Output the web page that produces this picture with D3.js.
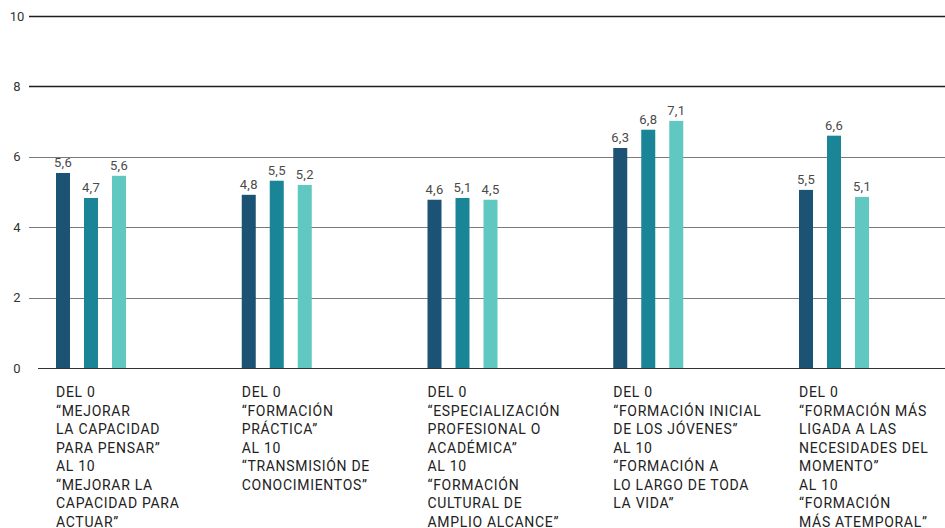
<!DOCTYPE html>
<html>
<head>
<meta charset="utf-8">
<script src="https://cdn.jsdelivr.net/npm/d3@7"></script>
<style>
  body { margin: 0; background: #fff; }
  svg { display: block; font-family: Roboto, "DejaVu Sans", sans-serif; }
  .tick-y { font-size: 13px; fill: #333; }
  .valor { font-size: 13px; fill: #4a4a4a; letter-spacing: 0.3px; }
  .cat { font-size: 14px; fill: #222; letter-spacing: 0.7px; }
</style>
</head>
<body>
<div class="chart"></div>
<script>
var categorias = ["pensar-actuar", "practica-transmision", "especializacion-cultural", "inicial-vida", "momento-atemporal"];

var etiquetas = [
  ["DEL 0", "\u201cMEJORAR", "LA CAPACIDAD", "PARA PENSAR\u201d", "AL 10", "\u201cMEJORAR LA", "CAPACIDAD PARA", "ACTUAR\u201d"],
  ["DEL 0", "\u201cFORMACIÓN", "PRÁCTICA\u201d", "AL 10", "\u201cTRANSMISIÓN DE", "CONOCIMIENTOS\u201d"],
  ["DEL 0", "\u201cESPECIALIZACIÓN", "PROFESIONAL O", "ACADÉMICA\u201d", "AL 10", "\u201cFORMACIÓN", "CULTURAL DE", "AMPLIO ALCANCE\u201d"],
  ["DEL 0", "\u201cFORMACIÓN INICIAL", "DE LOS JÓVENES\u201d", "AL 10", "\u201cFORMACIÓN A", "LO LARGO DE TODA", "LA VIDA\u201d"],
  ["DEL 0", "\u201cFORMACIÓN MÁS", "LIGADA A LAS", "NECESIDADES DEL", "MOMENTO\u201d", "AL 10", "\u201cFORMACIÓN", "MÁS ATEMPORAL\u201d"]
];

// alturas de las barras tal como se ven
var serie1 = [5.54, 4.92, 4.78, 6.25, 5.06];
var serie2 = [4.83, 5.32, 4.83, 6.77, 6.60];
var serie3 = [5.46, 5.20, 4.78, 7.02, 4.86];

// valores rotulados
var rotulo1 = [5.6, 4.8, 4.6, 6.3, 5.5];
var rotulo2 = [4.7, 5.5, 5.1, 6.8, 6.6];
var rotulo3 = [5.6, 5.2, 4.5, 7.1, 5.1];

var ticksY = [0, 2, 4, 6, 8, 10];

var series = ["s1", "s2", "s3"];
var colores = ["#1c5274", "#1a8596", "#60c8c0"];

function draw_chart() {
  var w = 945,
      h = 528,
      y_top = 16,
      y_bottom = 368;

  var svg = d3.select('.chart')
    .append('svg')
    .attr('width', w)
    .attr('height', h);

  var y = d3.scaleLinear().domain([0, 10]).range([y_bottom, y_top]);

  var x = d3.scalePoint()
    .domain(categorias)
    .range([91, 834]);

  var xs = d3.scaleBand()
    .domain(series)
    .range([-35, 35])
    .paddingInner(0.5)
    .paddingOuter(0);

  // rejilla
  svg.append('g').selectAll('line')
    .data(ticksY)
    .enter().append('line')
    .attr('x1', function(d) { return d === 0 ? 38 : 29; })
    .attr('x2', w)
    .attr('y1', function(d) { return Math.round(y(d)) + 0.5; })
    .attr('y2', function(d) { return Math.round(y(d)) + 0.5; })
    .attr('stroke', function(d) { return d >= 8 ? '#1e1e1e' : (d === 0 ? '#333' : '#7a7a7a'); })
    .attr('stroke-width', function(d) { return d >= 8 ? 1.3 : 1.2; });

  svg.append('g').selectAll('text')
    .data(ticksY)
    .enter().append('text')
    .attr('class', 'tick-y')
    .attr('x', 17)
    .attr('y', function(d) { return y(d); })
    .attr('dy', '0.35em')
    .attr('text-anchor', 'middle')
    .text(function(d) { return d; });

  var datos = [serie1, serie2, serie3];
  var rotulos = [rotulo1, rotulo2, rotulo3];
  var fmt = function(v) { return d3.format('.1f')(v).replace('.', ','); };

  var grupos = svg.append('g').selectAll('g')
    .data(categorias)
    .enter().append('g')
    .attr('transform', function(d) { return 'translate(' + x(d) + ',0)'; });

  grupos.each(function(c, i) {
    var g = d3.select(this);
    series.forEach(function(s, j) {
      var v = datos[j][i];
      g.append('rect')
        .attr('x', xs(s))
        .attr('y', y(v))
        .attr('width', xs.bandwidth())
        .attr('height', y(0) - y(v))
        .attr('fill', colores[j]);
      g.append('text')
        .attr('class', 'valor')
        .attr('x', xs(s) + xs.bandwidth() / 2)
        .attr('y', y(v) - 6)
        .attr('text-anchor', 'middle')
        .text(fmt(rotulos[j][i]));
    });

    var t = g.append('text')
      .attr('class', 'cat')
      .attr('x', xs(series[0]))
      .attr('y', 397);
    t.selectAll('tspan')
      .data(etiquetas[i])
      .enter().append('tspan')
      .attr('x', xs(series[0]))
      .attr('dy', function(d, k) { return k === 0 ? 0 : 18.5; })
      .text(function(d) { return d; });
  });
}

draw_chart();
</script>
</body>
</html>
